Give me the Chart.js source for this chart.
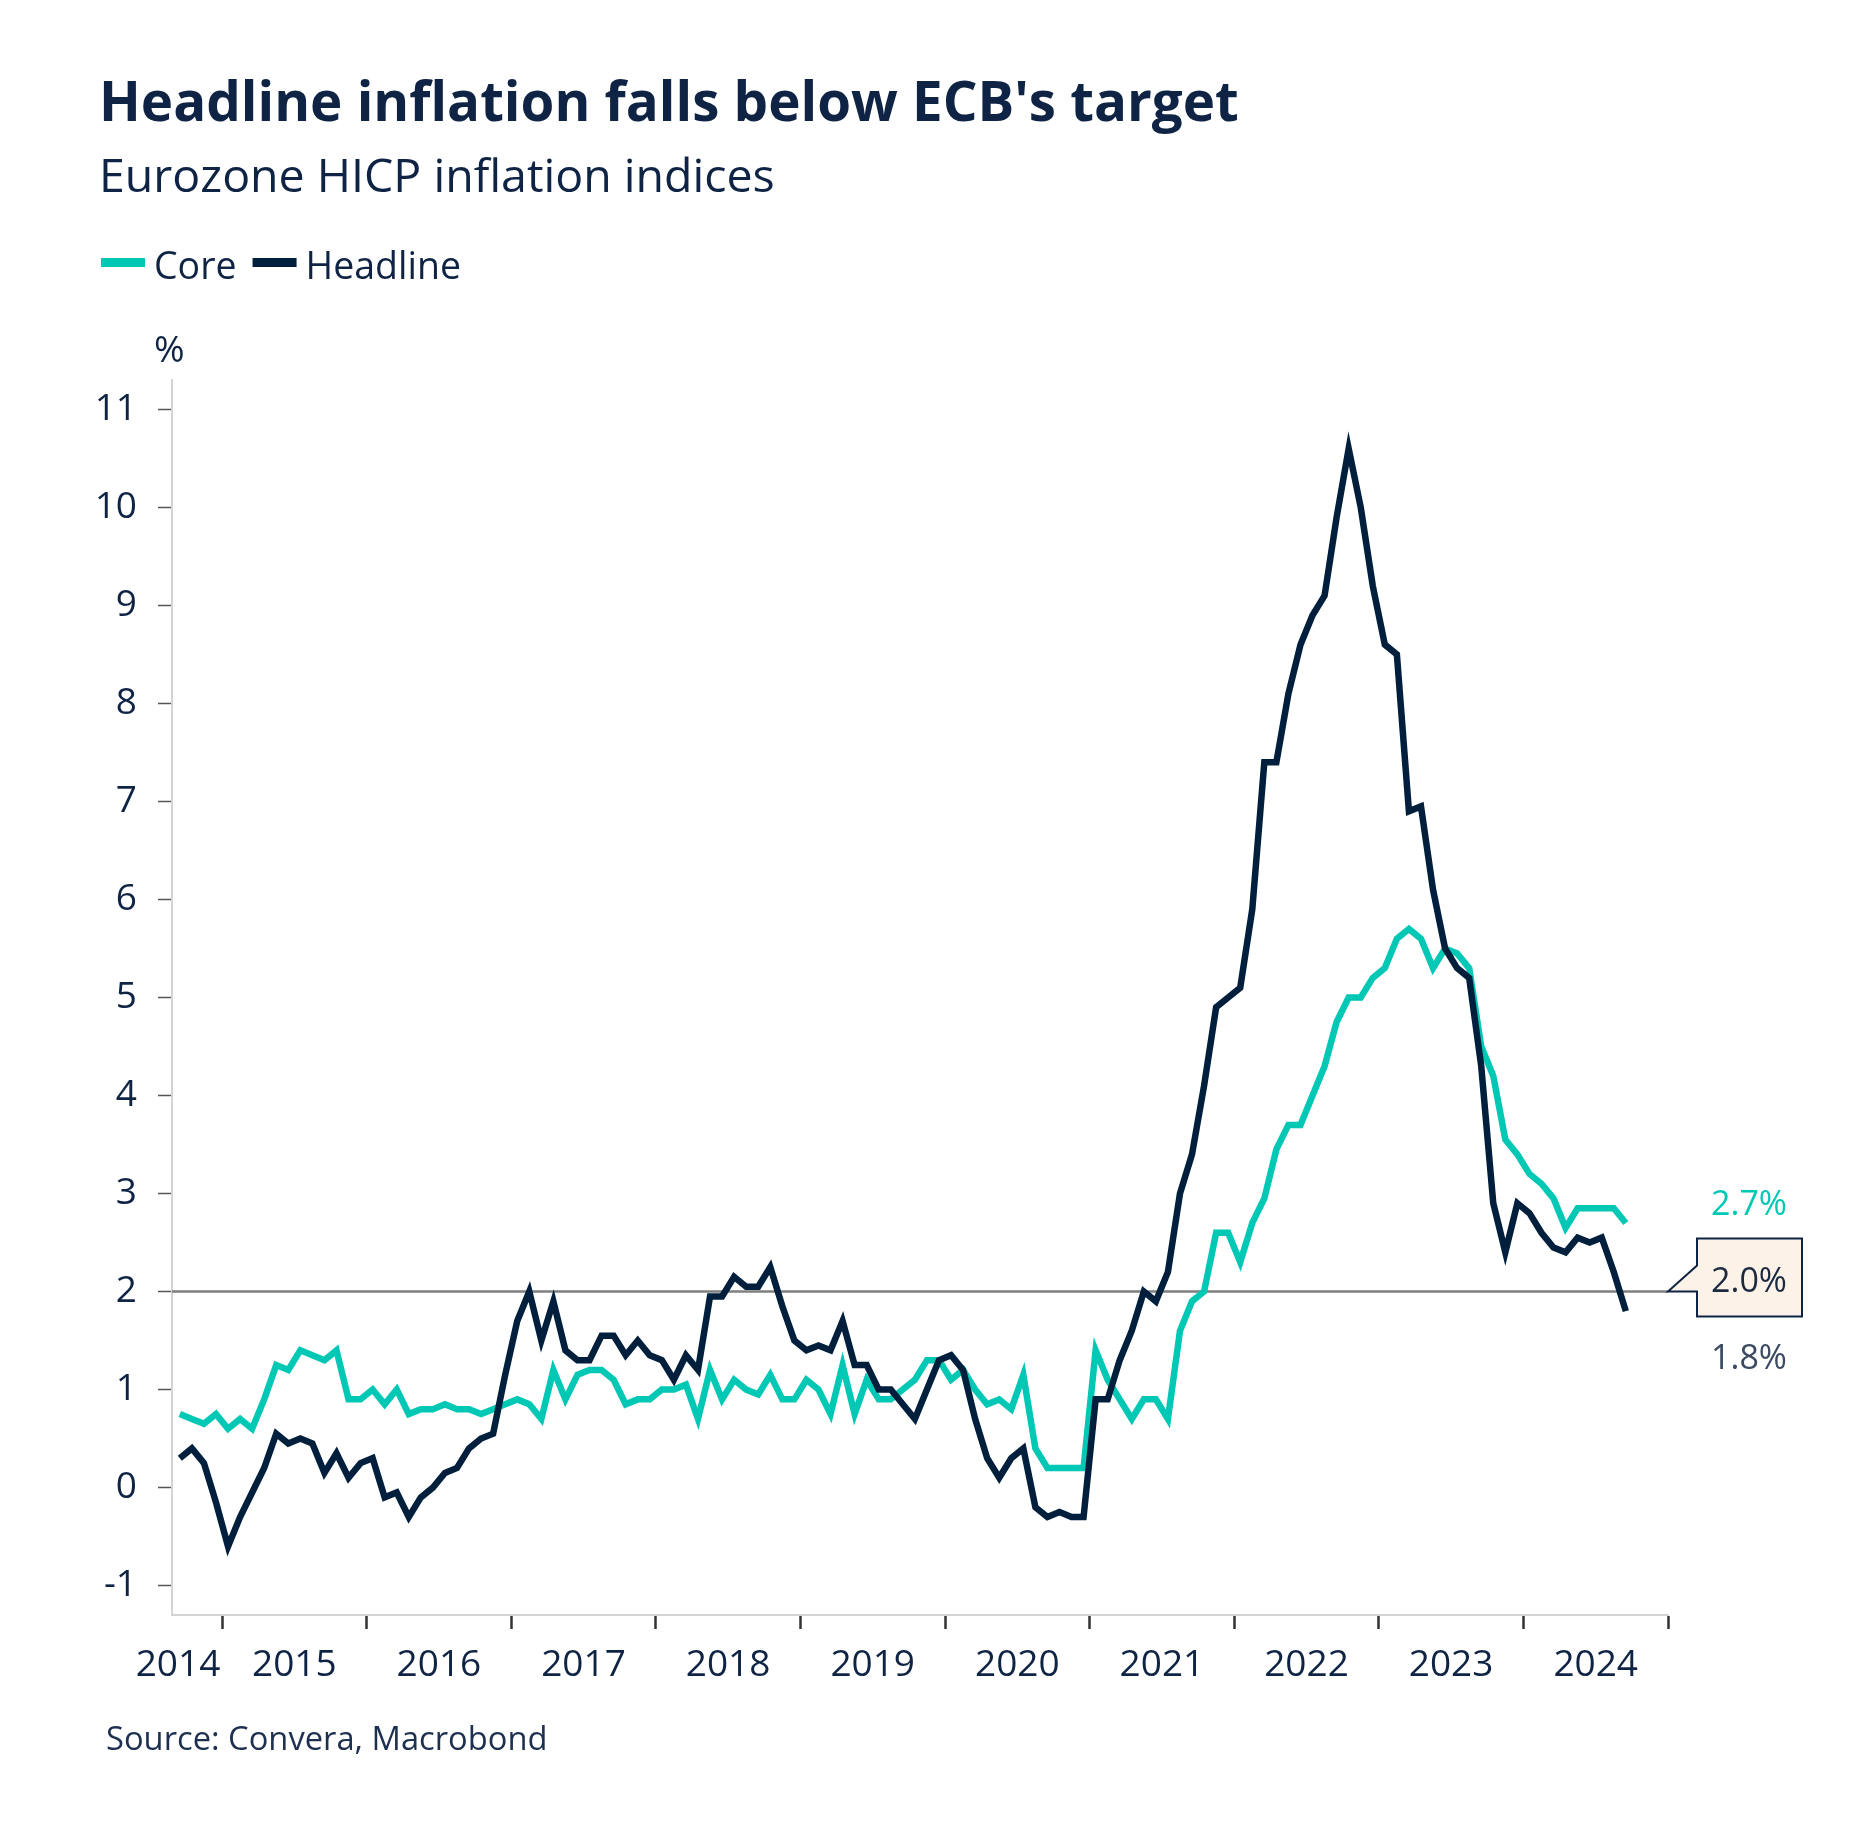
<!DOCTYPE html>
<html>
<head>
<meta charset="utf-8">
<script src="https://cdn.jsdelivr.net/npm/chart.js@4.4.1/dist/chart.umd.min.js"></script>
<style>
  html, body { margin: 0; padding: 0; background: #ffffff; }
  #wrap { width: 1863px; height: 1837px; position: relative; }
  canvas { display: block; }
</style>
</head>
<body>
<div id="wrap"><canvas id="c" width="1863" height="1837"></canvas></div>
<script>
// ---------------- DATA ----------------
const titleText = "Headline inflation falls below ECB's target";
const subtitleText = "Eurozone HICP inflation indices";
const sourceText = "Source: Convera, Macrobond";
const unitLabel = "%";
const seriesNames = ["Core", "Headline"];

// Monthly observations, Sep 2014 – Sep 2024
const months = [
  "2014-09","2014-10","2014-11","2014-12",
  "2015-01","2015-02","2015-03","2015-04","2015-05","2015-06","2015-07","2015-08","2015-09","2015-10","2015-11","2015-12",
  "2016-01","2016-02","2016-03","2016-04","2016-05","2016-06","2016-07","2016-08","2016-09","2016-10","2016-11","2016-12",
  "2017-01","2017-02","2017-03","2017-04","2017-05","2017-06","2017-07","2017-08","2017-09","2017-10","2017-11","2017-12",
  "2018-01","2018-02","2018-03","2018-04","2018-05","2018-06","2018-07","2018-08","2018-09","2018-10","2018-11","2018-12",
  "2019-01","2019-02","2019-03","2019-04","2019-05","2019-06","2019-07","2019-08","2019-09","2019-10","2019-11","2019-12",
  "2020-01","2020-02","2020-03","2020-04","2020-05","2020-06","2020-07","2020-08","2020-09","2020-10","2020-11","2020-12",
  "2021-01","2021-02","2021-03","2021-04","2021-05","2021-06","2021-07","2021-08","2021-09","2021-10","2021-11","2021-12",
  "2022-01","2022-02","2022-03","2022-04","2022-05","2022-06","2022-07","2022-08","2022-09","2022-10","2022-11","2022-12",
  "2023-01","2023-02","2023-03","2023-04","2023-05","2023-06","2023-07","2023-08","2023-09","2023-10","2023-11","2023-12",
  "2024-01","2024-02","2024-03","2024-04","2024-05","2024-06","2024-07","2024-08","2024-09"
];

const core = [
  0.75, 0.7, 0.65, 0.75,
  0.6, 0.7, 0.6, 0.9, 1.25, 1.2, 1.4, 1.35, 1.3, 1.4, 0.9, 0.9,
  1.0, 0.85, 1.0, 0.75, 0.8, 0.8, 0.85, 0.8, 0.8, 0.75, 0.8, 0.85,
  0.9, 0.85, 0.7, 1.2, 0.9, 1.15, 1.2, 1.2, 1.1, 0.85, 0.9, 0.9,
  1.0, 1.0, 1.05, 0.7, 1.2, 0.9, 1.1, 1.0, 0.95, 1.15, 0.9, 0.9,
  1.1, 1.0, 0.75, 1.25, 0.75, 1.1, 0.9, 0.9, 1.0, 1.1, 1.3, 1.3,
  1.1, 1.2, 1.0, 0.85, 0.9, 0.8, 1.15, 0.4, 0.2, 0.2, 0.2, 0.2,
  1.4, 1.1, 0.9, 0.7, 0.9, 0.9, 0.7, 1.6, 1.9, 2.0, 2.6, 2.6,
  2.3, 2.7, 2.95, 3.45, 3.7, 3.7, 4.0, 4.3, 4.75, 5.0, 5.0, 5.2,
  5.3, 5.6, 5.7, 5.6, 5.3, 5.5, 5.45, 5.3, 4.5, 4.2, 3.55, 3.4,
  3.2, 3.1, 2.95, 2.65, 2.85, 2.85, 2.85, 2.85, 2.7
];

const headline = [
  0.3, 0.4, 0.25, -0.15,
  -0.6, -0.3, -0.05, 0.2, 0.55, 0.45, 0.5, 0.45, 0.15, 0.35, 0.1, 0.25,
  0.3, -0.1, -0.05, -0.3, -0.1, 0.0, 0.15, 0.2, 0.4, 0.5, 0.55, 1.15,
  1.7, 2.0, 1.5, 1.9, 1.4, 1.3, 1.3, 1.55, 1.55, 1.35, 1.5, 1.35,
  1.3, 1.1, 1.35, 1.2, 1.95, 1.95, 2.15, 2.05, 2.05, 2.25, 1.85, 1.5,
  1.4, 1.45, 1.4, 1.7, 1.25, 1.25, 1.0, 1.0, 0.85, 0.7, 1.0, 1.3,
  1.35, 1.2, 0.7, 0.3, 0.1, 0.3, 0.4, -0.2, -0.3, -0.25, -0.3, -0.3,
  0.9, 0.9, 1.3, 1.6, 2.0, 1.9, 2.2, 3.0, 3.4, 4.1, 4.9, 5.0,
  5.1, 5.9, 7.4, 7.4, 8.1, 8.6, 8.9, 9.1, 9.9, 10.6, 10.0, 9.2,
  8.6, 8.5, 6.9, 6.95, 6.1, 5.5, 5.3, 5.2, 4.3, 2.9, 2.4, 2.9,
  2.8, 2.6, 2.45, 2.4, 2.55, 2.5, 2.55, 2.2, 1.8
];

const target = 2.0;               // ECB target reference line
const yTickValues = [-1, 0, 1, 2, 3, 4, 5, 6, 7, 8, 9, 10, 11];
const yearLabels = ["2014","2015","2016","2017","2018","2019","2020","2021","2022","2023","2024"];

// ---------------- STYLE ----------------
const TEAL = "#00c8b4";
const NAVY = "#001f3d";
const TEXT = "#0f2444";
const FONT = '"Open Sans", "Noto Sans", "DejaVu Sans", sans-serif';

// position of a "YYYY-MM" label on the x scale (index of months, extended beyond the array)
function monthPos(ym) {
  const [y, m] = ym.split("-").map(Number);
  const [y0, m0] = months[0].split("-").map(Number);
  return (y - y0) * 12 + (m - m0);
}
const xMin = -0.65;
const allBoundaries = yearLabels.map(y => monthPos(y + "-01") - 0.5)
  .concat([monthPos((Number(yearLabels[yearLabels.length - 1]) + 1) + "-01") - 0.5]);
const xMax = allBoundaries[allBoundaries.length - 1];
const yearBoundaries = allBoundaries.filter(v => v >= xMin && v <= xMax);
const yearCenters = yearLabels.map(y => Math.max(monthPos(y + "-07") - 0.5, xMin + 0.5));

const coreData = core.map((v, i) => ({ x: monthPos(months[i]), y: v }));
const headlineData = headline.map((v, i) => ({ x: monthPos(months[i]), y: v }));

const xTickList = [];
yearBoundaries.forEach(v => xTickList.push({ value: v, kind: "b" }));
yearCenters.forEach((v, i) => xTickList.push({ value: v, kind: "l", label: yearLabels[i] }));
xTickList.sort((a, b) => a.value - b.value);

const decorPlugin = {
  id: "decor",
  beforeDatasetsDraw(chart) {
    const { ctx, chartArea } = chart;
    const yS = chart.scales.y;
    const ty = yS.getPixelForValue(target);
    ctx.save();
    ctx.strokeStyle = "#7f7f7f";
    ctx.lineWidth = 2.5;
    ctx.beginPath();
    ctx.moveTo(chartArea.left, ty);
    ctx.lineTo(chartArea.right, ty);
    ctx.stroke();
    ctx.restore();
  },
  afterDraw(chart) {
    const { ctx, chartArea } = chart;
    const yS = chart.scales.y;
    ctx.save();
    ctx.textBaseline = "alphabetic";
    ctx.textAlign = "left";
    // Title + subtitle
    ctx.fillStyle = TEXT;
    ctx.font = "bold 54.7px " + FONT;
    ctx.fillText(titleText, 99, 121);
    ctx.font = "46.5px " + FONT;
    ctx.fillText(subtitleText, 99, 192);

    // Legend
    ctx.font = "37.5px " + FONT;
    let lx = 101;
    const colors = [TEAL, NAVY];
    seriesNames.forEach((name, i) => {
      ctx.fillStyle = colors[i];
      ctx.fillRect(lx, 258, 44, 9);
      lx += 44 + 9;
      ctx.fillStyle = TEXT;
      ctx.fillText(name, lx, 279);
      lx += ctx.measureText(name).width + 16;
    });

    // unit label
    ctx.font = "37px " + FONT;
    ctx.fillText(unitLabel, 154, 362);

    // source
    ctx.font = "32.7px " + FONT;
    ctx.fillStyle = "#1d3050";
    ctx.fillText(sourceText, 106, 1750);

    // Annotation: target callout + end values
    const ty = yS.getPixelForValue(target);
    const r = chartArea.right;
    const bl = r + 29, bw = 105, bt = ty - 53, bb = ty + 25;
    ctx.beginPath();
    ctx.moveTo(bl, bt);
    ctx.lineTo(bl + bw, bt);
    ctx.lineTo(bl + bw, bb);
    ctx.lineTo(bl, bb);
    ctx.lineTo(bl, ty);
    ctx.lineTo(r, ty);
    ctx.lineTo(bl, ty - 26);
    ctx.closePath();
    ctx.fillStyle = "#fcf2e8";
    ctx.fill();
    ctx.strokeStyle = "#0f2444";
    ctx.lineWidth = 2;
    ctx.stroke();

    const cx = r + 81;
    ctx.textAlign = "center";
    ctx.font = "34px " + FONT;
    ctx.fillStyle = "#1c2a40";
    ctx.fillText(target.toFixed(1) + "%", cx, ty);
    ctx.fillStyle = TEAL;
    ctx.fillText(core[core.length - 1].toFixed(1) + "%", cx, ty - 77);
    ctx.fillStyle = "#3b4a60";
    ctx.fillText(headline[headline.length - 1].toFixed(1) + "%", cx, ty + 77);
    ctx.restore();
  }
};

function draw() {
  new Chart(document.getElementById("c"), {
    type: "line",
    data: {
      datasets: [
        { label: seriesNames[0], data: coreData, borderColor: TEAL, borderWidth: 6.5,
          pointRadius: 0, tension: 0, fill: false, order: 1 },
        { label: seriesNames[1], data: headlineData, borderColor: NAVY, borderWidth: 6.5,
          pointRadius: 0, tension: 0, fill: false, order: 0 }
      ]
    },
    options: {
      responsive: false,
      animation: false,
      devicePixelRatio: 1,
      layout: { padding: { top: 380, right: 195, bottom: 0, left: 0 } },
      plugins: { legend: { display: false }, tooltip: { enabled: false }, title: { display: false } },
      scales: {
        x: {
          type: "linear",
          min: xMin,
          max: xMax,
          afterBuildTicks: s => { s.ticks = xTickList.map(t => ({ value: t.value })); },
          afterFit: s => { s.height = 222; },
          grid: {
            display: true, drawOnChartArea: false, drawTicks: true, tickLength: 14, tickWidth: 2.5,
            tickColor: c => {
              const t = c.tick && xTickList.find(k => Math.abs(k.value - c.tick.value) < 1e-6);
              return t && t.kind === "b" ? "#333333" : "rgba(0,0,0,0)";
            }
          },
          border: { display: true, color: "#d4d4d4", width: 2 },
          ticks: {
            autoSkip: false, maxRotation: 0, minRotation: 0, padding: 14,
            color: TEXT, font: { family: FONT, size: 37 },
            callback: v => {
              const t = xTickList.find(k => Math.abs(k.value - v) < 1e-6);
              return t && t.kind === "l" ? t.label : "";
            }
          }
        },
        y: {
          type: "linear",
          min: -1.3,
          max: 11.3,
          afterBuildTicks: s => { s.ticks = yTickValues.map(v => ({ value: v })); },
          afterFit: s => { s.width = 172; },
          grid: { display: true, drawOnChartArea: false, drawTicks: true, tickLength: 14, tickWidth: 1.5, tickColor: "#555555" },
          border: { display: true, color: "#d4d4d4", width: 2 },
          ticks: { padding: 21, color: TEXT, font: { family: FONT, size: 37 }, callback: v => String(v) }
        }
      }
    },
    plugins: [decorPlugin]
  });
}

if (document.fonts && document.fonts.load) {
  Promise.all([
    document.fonts.load('bold 55px "Open Sans"'),
    document.fonts.load('37px "Open Sans"')
  ]).then(draw, draw);
} else {
  draw();
}
</script>
</body>
</html>
